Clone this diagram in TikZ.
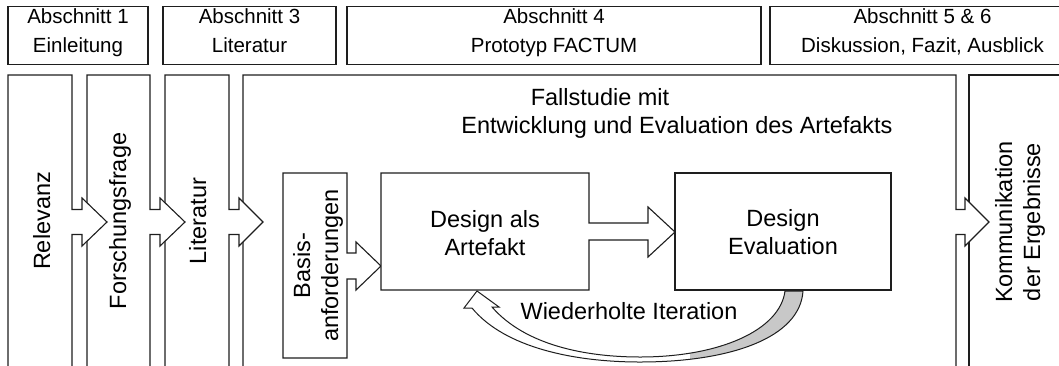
\documentclass[tikz,border=0pt]{standalone}
\usepackage{fontspec}
\setmainfont{Liberation Sans}
\definecolor{ribbon}{RGB}{200,200,200}
\definecolor{edge}{RGB}{30,30,30}
\begin{document}
\begin{tikzpicture}[x=1pt,y=-1pt,
  line width=1.1pt, line join=miter,
  txt/.style={font=\fontsize{23.5}{28}\selectfont, inner sep=0pt, align=center},
  hdrbox/.style={draw=edge, inner sep=0pt, minimum height=58pt},
  hdrtxt/.style={font=\fontsize{20.5}{29}\selectfont, inner sep=0pt, align=center},
  col/.style={draw=edge, fill=white}]
\useasboundingbox (0,0) rectangle (1059,365);
\clip (0,0) rectangle (1059,365);

% header boxes
\node[hdrbox, minimum width=140pt] (s1) at (78,35.5) {};
\node[hdrbox, minimum width=173pt] (s3) at (249.5,35.5) {};
\node[hdrbox, minimum width=414pt] (s4) at (554,35.5) {};
\node[hdrbox, minimum width=305pt] (s56) at (922.5,35.5) {};
\node[hdrtxt] (s1t) at (s1.center |- 0,31.7) {\strut Abschnitt 1\\\strut Einleitung};
\node[hdrtxt] (s3t) at (s3.center |- 0,31.7) {\strut Abschnitt 3\\\strut Literatur};
\node[hdrtxt] (s4t) at (s4.center |- 0,31.7) {\strut Abschnitt 4\\\strut Prototyp FACTUM};
\node[hdrtxt] (s56t) at (s56.center |- 0,31.7) {\strut Abschnitt 5 \& 6\\\strut Diskussion, Fazit, Ausblick};

% columns (right to left so each arrow head lies on the next column)
\draw[col] (969,370) -- (969,75) -- (1080,75) -- (1080,370);
\draw[col] (243,370) -- (243,75) -- (956,75) -- (956,209.5) -- (965,209.5) -- (965,198) -- (989,222)
  -- (965,246) -- (965,234.5) -- (956,234.5) -- (956,370);
\draw[col] (165,370) -- (165,75) -- (229,75) -- (229,209.5) -- (239,209.5) -- (239,198) -- (263,222)
  -- (239,246) -- (239,234.5) -- (229,234.5) -- (229,370);
\draw[col] (87,370) -- (87,75) -- (150,75) -- (150,209.5) -- (160,209.5) -- (160,198) -- (185,222)
  -- (160,246) -- (160,234.5) -- (150,234.5) -- (150,370);
\draw[col] (8,370) -- (8,75) -- (72,75) -- (72,209.5) -- (82,209.5) -- (82,198) -- (107,222)
  -- (82,246) -- (82,234.5) -- (72,234.5) -- (72,370);

\node[txt, rotate=90, anchor=base] (rel) at (50,221) {Relevanz};
\node[txt, rotate=90, anchor=base] (ff) at (126,221) {Forschungsfrage};
\node[txt, rotate=90, anchor=base] (lit) at (206,221) {Literatur};
\node[txt, rotate=90] (kom) at (1020.4,222) {\strut Kommunikation\\\strut der Ergebnisse};

\node[txt, anchor=base] (fall1) at (600,105) {Fallstudie mit};
\node[txt, anchor=base] (fall2) at (677,133) {Entwicklung und Evaluation des Artefakts};

% inner boxes with block arrows
\draw[col] (283,173) -- (347,173) -- (347,253) -- (356,253) -- (356,242) -- (381,266) -- (356,290)
  -- (356,279) -- (347,279) -- (347,358) -- (283,358) -- cycle;
\draw[col] (381,173) -- (589,173) -- (589,223) -- (648,223) -- (648,207) -- (675,232) -- (648,257)
  -- (648,240) -- (589,240) -- (589,290) -- (381,290) -- cycle;
\draw[col] (675,173) rectangle (891,290);

\node[txt, rotate=90] (basis) at (318.4,265.5) {\strut Basis-\\\strut anforderungen};
\node[txt] (design) at (485,235.4) {\strut Design als\\\strut Artefakt};
\node[txt] (eval) at (783,234.6) {\strut Design\\\strut Evaluation};

% curved iteration arrow
\def\ribbonpath{(477,291) -- (499,307) -- (492,307) .. controls (525,345) and (585,357) .. (640,357)
  .. controls (720,357) and (780,330) .. (785,291) -- (803,291) .. controls (800,338) and (730,362) .. (640,362)
  .. controls (575,362) and (505,348) .. (472,308) -- (464,308) -- cycle}
\fill[white] \ribbonpath;
\begin{scope}
  \clip (690,280) rectangle (820,370);
  \fill[ribbon] \ribbonpath;
\end{scope}
\draw[edge, line width=1pt] \ribbonpath;

\node[txt, anchor=base] (iter) at (629,319) {Wiederholte Iteration};
\end{tikzpicture}
\end{document}
